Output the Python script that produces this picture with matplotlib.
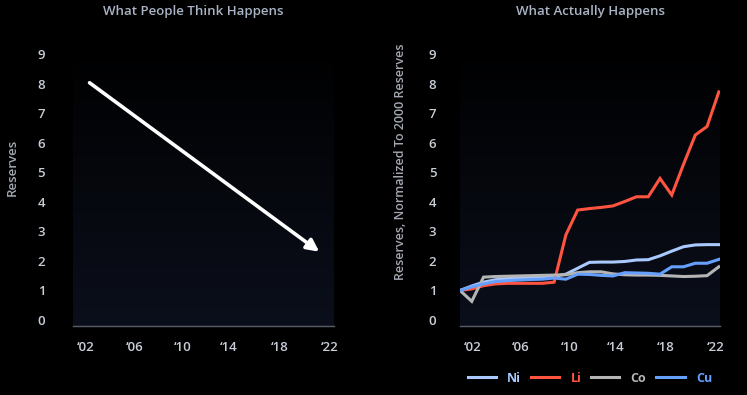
import matplotlib.pyplot as plt
import numpy as np
from matplotlib.colors import LinearSegmentedColormap

# reserves normalized to the 2000 value
years = list(range(2000, 2023))
ni = [1.0, 1.15, 1.28, 1.36, 1.40, 1.42, 1.44, 1.46, 1.48, 1.55, 1.75, 1.95,
      1.96, 1.96, 1.98, 2.03, 2.04, 2.17, 2.33, 2.48, 2.54, 2.55, 2.55]
li = [1.0, 1.05, 1.16, 1.22, 1.24, 1.24, 1.24, 1.24, 1.28, 2.88, 3.72, 3.77,
      3.81, 3.86, 4.01, 4.17, 4.17, 4.79, 4.23, 5.27, 6.26, 6.55, 7.72]
co = [1.0, 0.63, 1.45, 1.47, 1.48, 1.49, 1.50, 1.51, 1.52, 1.53, 1.60, 1.63,
      1.63, 1.56, 1.53, 1.52, 1.52, 1.51, 1.49, 1.47, 1.48, 1.50, 1.80]
cu = [1.0, 1.12, 1.22, 1.30, 1.33, 1.35, 1.37, 1.38, 1.42, 1.38, 1.55, 1.54,
      1.51, 1.49, 1.60, 1.59, 1.58, 1.55, 1.80, 1.80, 1.92, 1.92, 2.05]

series = [("Ni", ni, "#a9c9ff"), ("Li", li, "#ff5440"),
          ("Co", co, "#b5b5b5"), ("Cu", cu, "#66a0ff")]

tick_labels = ["\u201802", "\u201806", "\u201810", "\u201814", "\u201818", "\u201822"]
tick_pos = [2001.05, 2005.2, 2009.3, 2013.2, 2017.5, 2021.7]

# the "expected" straight decline
guess_start = (2001.4, 8.03)
guess_end = (2020.85, 2.31)

plt.rcParams['font.family'] = ['Open Sans', 'DejaVu Sans']

fig = plt.figure(figsize=(7.47, 3.95), dpi=100, facecolor="black")
ax1 = fig.add_axes([73 / 747, 0.175, 261 / 747, 0.718])
ax2 = fig.add_axes([460 / 747, 0.175, 260 / 747, 0.718])

grad = np.linspace(0, 1, 256).reshape(-1, 1)
cmap = LinearSegmentedColormap.from_list("bg", ["#0b0f1b", "#000000"])

for ax in (ax1, ax2):
    ax.set_facecolor("black")
    ax.imshow(grad, cmap=cmap, aspect="auto", extent=[0, 1, 0, 1],
              transform=ax.transAxes, zorder=0, origin="lower")
    ax.set_xlim(2000, 2022.1)
    ax.set_ylim(-0.2, 9.4)
    ax.set_yticks(range(0, 10))
    ax.set_xticks(tick_pos)
    ax.set_xticklabels(tick_labels)
    for s in ["top", "right", "left"]:
        ax.spines[s].set_visible(False)
    ax.spines["bottom"].set_color("#5a5d66")
    ax.spines["bottom"].set_linewidth(1)
    ax.tick_params(axis="both", length=0, colors="#c8ced8", labelsize=9.5)
    ax.tick_params(axis="x", pad=11)
    for lab in ax.get_xticklabels() + ax.get_yticklabels():
        lab.set_fontweight("semibold")

ax1.tick_params(axis="y", pad=20)
ax2.tick_params(axis="y", pad=17)

ax1.annotate("", xy=guess_end, xytext=guess_start,
             arrowprops=dict(arrowstyle="-|>", color="white", lw=2.6,
                             mutation_scale=18, shrinkA=0, shrinkB=0))

handles = []
for name, vals, col in series:
    h, = ax2.plot(years, vals, color=col, lw=2.2, label=name, zorder=3,
                  solid_joinstyle="miter")
    handles.append(h)

leg = ax2.legend(handles=handles, loc="center", bbox_to_anchor=(0.5, -0.184),
                 ncol=4, frameon=False, handlelength=2.25, handletextpad=0.9,
                 columnspacing=0.8, fontsize=9)
for txt, (_, _, col) in zip(leg.get_texts(), series):
    txt.set_color(col)
    txt.set_fontweight("bold")

fig.text(193 / 747, 0.97, "What People Think Happens", color="#a9b4c4",
         fontsize=9.5, fontweight="semibold", ha="center", va="center")
fig.text(590 / 747, 0.97, "What Actually Happens", color="#a9b4c4",
         fontsize=9.5, fontweight="semibold", ha="center", va="center")
fig.text(12 / 747, 1 - 167 / 395, "Reserves", color="#a3a8b2", fontsize=9.5,
         fontweight="semibold", rotation=90, ha="center", va="center")
fig.text(401 / 747, 1 - 162 / 395, "Reserves, Normalized To 2000 Reserves",
         color="#a3a8b2", fontsize=9, fontweight="semibold", rotation=90,
         ha="center", va="center")

fig.savefig("out.png", dpi=100, facecolor="black")
